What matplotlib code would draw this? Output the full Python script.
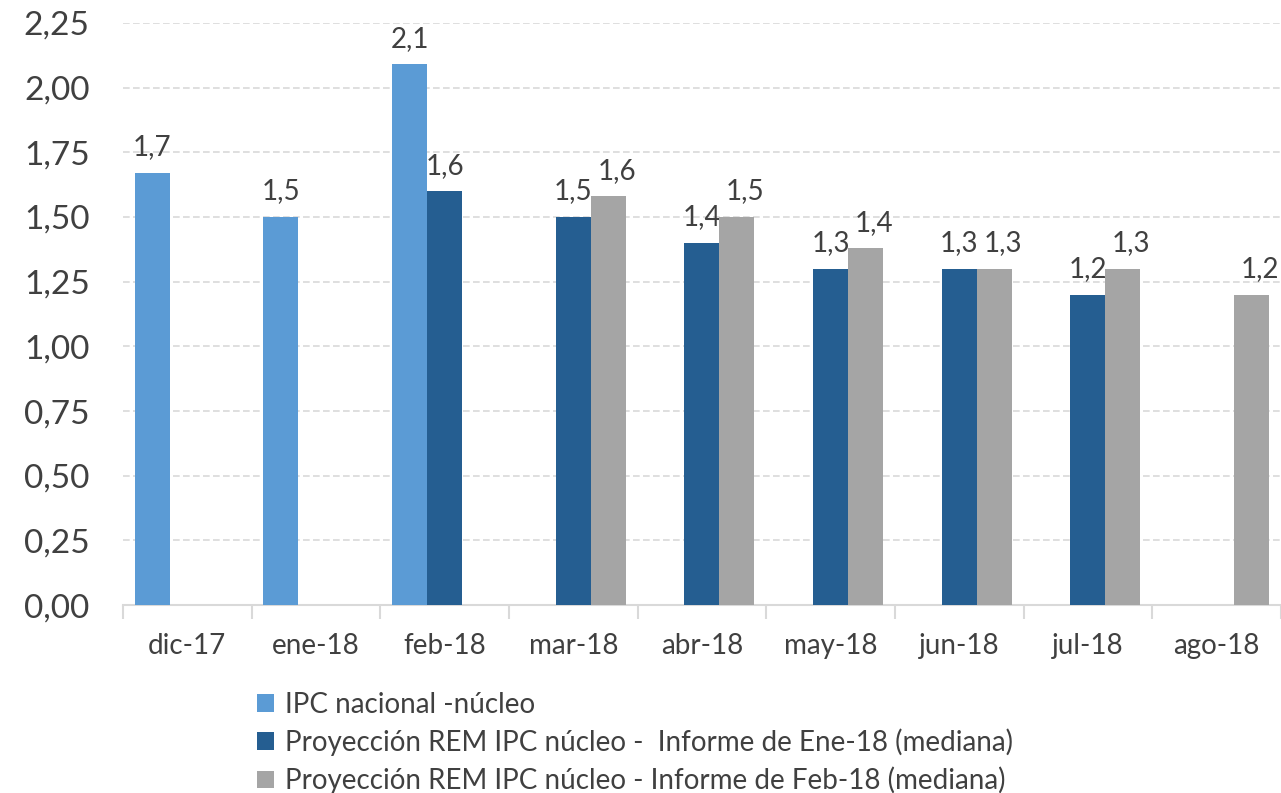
import numpy as np
import matplotlib.pyplot as plt

plt.rcParams['font.family'] = ['Lato', 'DejaVu Sans']

meses = ['dic-17', 'ene-18', 'feb-18', 'mar-18', 'abr-18', 'may-18', 'jun-18', 'jul-18', 'ago-18']
ipc_nacional = [1.67, 1.50, 2.09, None, None, None, None, None, None]
rem_ene = [None, None, 1.60, 1.50, 1.40, 1.30, 1.30, 1.20, None]
rem_feb = [None, None, None, 1.58, 1.50, 1.38, 1.30, 1.30, 1.20]

series = [
    ('IPC nacional -núcleo', ipc_nacional, '#5B9BD5'),
    ('Proyección REM IPC núcleo -  Informe de Ene-18 (mediana)', rem_ene, '#255E91'),
    ('Proyección REM IPC núcleo - Informe de Feb-18 (mediana)', rem_feb, '#A5A5A5'),
]

fig = plt.figure(figsize=(12.81, 7.93), dpi=100)
ax = fig.add_axes([0.096, 0.237, 0.904, 0.734])

x = np.arange(len(meses))
w = 0.272
txt = '#404040'
# small sideways nudge for the grey series labels so they don't collide
dx = [0, 0, 6]
for i, (name, vals, col) in enumerate(series):
    xs = [xi + (i - 1) * w for xi, v in zip(x, vals) if v is not None]
    ys = [v for v in vals if v is not None]
    ax.bar(xs, ys, width=w, color=col, label=name, zorder=3)
    for xx, yy in zip(xs, ys):
        ax.annotate(f'{yy:.1f}'.replace('.', ','), (xx, yy), xytext=(dx[i], 9),
                    textcoords='offset points', ha='center', va='bottom',
                    fontsize=20, color=txt)

ax.set_xlim(-0.5, len(meses) - 0.5)
ax.set_ylim(0, 2.25)
yt = np.arange(0, 2.26, 0.25)
ax.set_yticks(yt)
ax.set_yticklabels([f'{v:.2f}'.replace('.', ',') for v in yt], fontsize=24, color=txt)
ax.set_xticks(x)
ax.set_xticklabels(meses, fontsize=20, color=txt)
ax.set_xticks(np.arange(-0.5, len(meses), 1), minor=True)
ax.tick_params(axis='x', which='major', length=0, pad=20)
ax.tick_params(axis='x', which='minor', length=10, color='#D9D9D9', width=1.5)
ax.tick_params(axis='y', length=0, pad=24)
ax.yaxis.grid(True, color='#D9D9D9', linestyle=(0, (4, 2)), linewidth=1.2, zorder=0)
for s in ['top', 'right', 'left']:
    ax.spines[s].set_visible(False)
ax.spines['bottom'].set_color('#D9D9D9')
ax.spines['bottom'].set_linewidth(1.5)

fig.legend(loc='upper left', bbox_to_anchor=(0.19, 0.145), frameon=False,
           fontsize=20, labelcolor=txt, handlelength=0.6, handleheight=0.6,
           handletextpad=0.4, labelspacing=0.38, borderpad=0)

fig.savefig('out.png', dpi=100)
